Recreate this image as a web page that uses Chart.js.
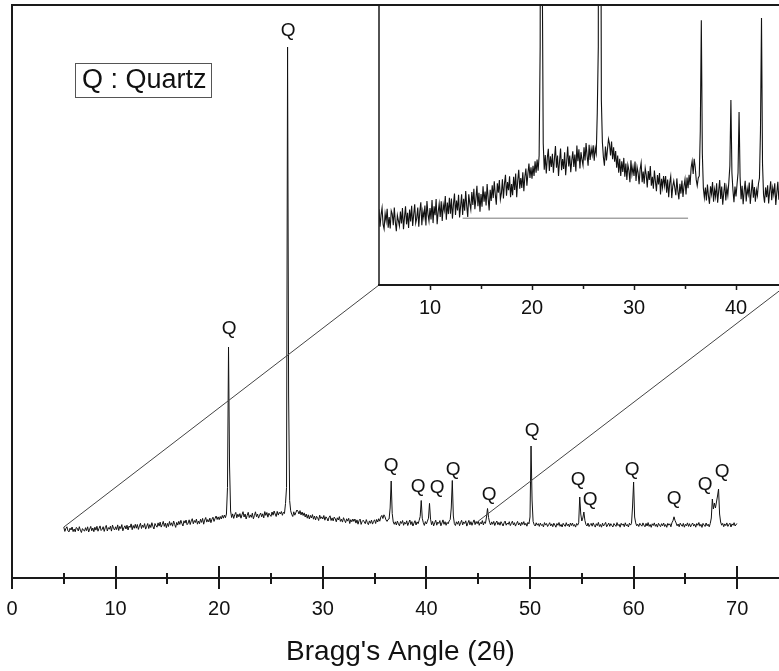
<!DOCTYPE html>
<html>
<head>
<meta charset="utf-8">
<title>XRD - Quartz</title>
<script src="https://cdn.jsdelivr.net/npm/chart.js@4.4.1/dist/chart.umd.min.js"></script>
<style>
  html, body { margin: 0; padding: 0; background: #fff; overflow: hidden; }
  #wrap { position: relative; width: 779px; height: 671px; overflow: hidden; }
  #mainChart { position: absolute; left: 0; top: 0; }
  #insetChart { position: absolute; left: 377px; top: 0; }
</style>
</head>
<body>
<div id="wrap">
  <canvas id="mainChart" width="800" height="671"></canvas>
  <canvas id="insetChart" width="430" height="330"></canvas>
</div>
<script>
// scan: 5.0° to 70.0° (2θ), step 0.1°
const scanStart = 5.0;
const scanStep = 0.1;
const counts = [
  509, 466, 495, 512, 472, 461, 498, 480, 510, 464,
  490, 462, 505, 497, 470, 513, 478, 455, 494, 481,
  468, 503, 474, 512, 460, 489, 516, 472, 500, 463,
  508, 479, 517, 468, 496, 521, 475, 487, 513, 466,
  503, 526, 470, 504, 488, 518, 469, 529, 497, 480,
  512, 484, 531, 475, 516, 494, 534, 472, 502, 522,
  490, 528, 480, 520, 506, 541, 483, 525, 497, 537,
  498, 535, 486, 521, 547, 495, 530, 506, 544, 489,
  516, 545, 495, 534, 505, 553, 517, 490, 545, 523,
  508, 551, 519, 559, 509, 534, 566, 516, 549, 503,
  546, 515, 565, 527, 552, 518, 570, 536, 506, 556,
  529, 567, 536, 577, 545, 520, 572, 549, 580, 533,
  548, 582, 535, 571, 593, 542, 575, 555, 589, 538,
  570, 543, 588, 556, 596, 538, 579, 605, 559, 585,
  561, 599, 553, 588, 608, 566, 596, 620, 585, 611,
  583, 615, 590, 626, 598, 630, 603, 640, 905, 2310,
  1120, 670, 605, 641, 596, 634, 656, 602, 638, 612,
  644, 598, 632, 663, 610, 640, 590, 626, 657, 604,
  631, 607, 648, 592, 625, 662, 613, 640, 599, 628,
  650, 612, 642, 601, 664, 626, 655, 608, 648, 630,
  616, 660, 628, 670, 640, 615, 666, 629, 657, 641,
  665, 627, 658, 645, 744, 905, 5310, 1830, 775, 672,
  636, 615, 662, 628, 655, 680, 668, 640, 674, 631,
  660, 625, 651, 610, 640, 598, 632, 590, 626, 600,
  634, 588, 620, 580, 617, 604, 575, 628, 594, 612,
  590, 625, 578, 612, 598, 570, 606, 622, 575, 601,
  571, 609, 593, 562, 602, 580, 614, 566, 588, 559,
  603, 577, 553, 592, 569, 597, 545, 583, 562, 590,
  566, 590, 549, 581, 538, 573, 589, 536, 565, 578,
  561, 543, 584, 553, 533, 571, 547, 579, 539, 565,
  582, 545, 586, 560, 593, 568, 610, 626, 595, 632,
  612, 581, 566, 585, 590, 700, 970, 645, 560, 537,
  562, 530, 569, 541, 522, 565, 546, 575, 527, 557,
  539, 572, 525, 553, 580, 534, 564, 520, 549, 573,
  530, 561, 543, 576, 615, 775, 598, 555, 526, 564,
  540, 569, 598, 746, 588, 533, 566, 521, 553, 578,
  528, 559, 545, 574, 522, 551, 581, 537, 563, 527,
  556, 542, 571, 585, 700, 975, 620, 544, 525, 562,
  538, 567, 523, 553, 577, 531, 561, 545, 572, 519,
  549, 576, 532, 563, 527, 557, 581, 534, 565, 543,
  568, 527, 556, 541, 574, 530, 562, 546, 610, 695,
  605, 556, 530, 561, 537, 566, 525, 551, 570, 533,
  556, 528, 563, 543, 520, 552, 569, 528, 549, 537,
  563, 524, 546, 568, 531, 553, 519, 545, 566, 530,
  551, 522, 558, 535, 564, 529, 547, 518, 556, 541,
  610, 1320, 780, 566, 534, 520, 552, 528, 544, 516,
  549, 526, 536, 511, 554, 529, 545, 515, 533, 553,
  521, 541, 513, 548, 530, 508, 545, 527, 555, 517,
  536, 510, 547, 529, 516, 553, 523, 539, 512, 549,
  525, 550, 518, 535, 509, 545, 528, 552, 810, 640,
  570, 600, 660, 575, 535, 520, 549, 514, 533, 546,
  518, 551, 527, 509, 543, 524, 556, 515, 535, 508,
  548, 520, 537, 556, 512, 530, 549, 517, 543, 525,
  510, 545, 530, 516, 554, 524, 537, 508, 547, 528,
  541, 513, 552, 522, 535, 510, 549, 529, 545, 720,
  960, 610, 551, 522, 538, 515, 547, 531, 518, 551,
  528, 512, 546, 520, 554, 516, 535, 507, 542, 525,
  551, 517, 537, 509, 547, 529, 513, 543, 522, 550,
  515, 535, 507, 546, 528, 542, 512, 552, 572, 612,
  575, 551, 522, 540, 512, 548, 530, 517, 546, 508,
  537, 522, 551, 516, 543, 511, 534, 550, 519, 538,
  508, 545, 527, 555, 518, 537, 506, 546, 529, 515,
  550, 522, 538, 512, 545, 600, 790, 690, 750, 700,
  760, 820, 890, 640, 560, 528, 546, 513, 541, 524,
  551, 516, 535, 548, 510, 541, 527, 553, 520, 537,
  543
];

// "Q" marks for the quartz reflections (2θ, counts)
const qLabelAngles = [20.95, 26.65, 36.59, 39.2, 41.03, 42.58, 46.06, 50.21, 54.65, 55.81, 59.86, 63.92, 66.91, 68.55];
const qLabelCounts = [2490, 5470, 1120, 910, 900, 1080, 830, 1470, 980, 780, 1080, 790, 930, 1060];

// axes
const mainRange = [0, 75];
const mainTicks = [0, 10, 20, 30, 40, 50, 60, 70];
const mainCounts = [0, 5730];
const insetRange = [5, 45];
const insetTicks = [10, 20, 30, 40];
const insetCounts = [324, 1007];

// flat reference line in the zoomed view
const refLineAngles = [13.2, 35.3];
const refLineCount = 487;

const sans = '"Liberation Sans", Arial, sans-serif';
const serif = '"Liberation Serif", "Times New Roman", serif';

const pattern = counts.map((c, i) => ({ x: +(scanStart + i * scanStep).toFixed(2), y: c }));

function countAt(angle) {
    return counts[Math.round((angle - scanStart) / scanStep)];
}

// ---------- zoomed view (5° - 45°) ----------
const insetCanvas = document.getElementById('insetChart');

const insetPlugin = {
    id: 'insetFrame',
    beforeDraw(chart) {
        const { ctx, chartArea: a } = chart;
        ctx.save();
        ctx.fillStyle = '#fff';
        ctx.fillRect(a.left, a.top, chart.width - a.left, a.bottom - a.top);
        ctx.restore();
    },
    afterDraw(chart) {
        const { ctx, chartArea: a, scales: { x } } = chart;
        ctx.save();
        ctx.strokeStyle = '#1a1a1a';
        ctx.lineWidth = 2;
        ctx.beginPath();
        ctx.moveTo(a.left, a.top);
        ctx.lineTo(chart.width, a.top);
        ctx.moveTo(a.left - 1, a.bottom);
        ctx.lineTo(chart.width, a.bottom);
        ctx.stroke();
        ctx.lineWidth = 1.5;
        ctx.beginPath();
        ctx.moveTo(a.left, a.top);
        ctx.lineTo(a.left, a.bottom);
        for (let t = 10; t <= insetRange[1]; t += 5) {
            const px = Math.round(x.getPixelForValue(t)) + 0.5;
            ctx.moveTo(px, a.bottom);
            ctx.lineTo(px, a.bottom + (t % 10 === 0 ? 5 : 4));
        }
        ctx.stroke();
        ctx.restore();
    }
};

const insetChart = new Chart(insetCanvas, {
    type: 'line',
    data: {
        datasets: [
            {
                data: pattern,
                borderColor: '#111',
                borderWidth: 1.1,
                pointRadius: 0,
                tension: 0
            },
            {
                data: refLineAngles.map(a => ({ x: a, y: refLineCount })),
                borderColor: '#777',
                borderWidth: 1,
                pointRadius: 0
            }
        ]
    },
    options: {
        responsive: false,
        devicePixelRatio: 1,
        animation: false,
        events: [],
        layout: { padding: { left: 2, top: 5, right: 20, bottom: 0 } },
        plugins: { legend: { display: false }, tooltip: { enabled: false } },
        scales: {
            x: {
                type: 'linear',
                min: insetRange[0],
                max: insetRange[1],
                afterBuildTicks: scale => { scale.ticks = insetTicks.map(v => ({ value: v })); },
                afterFit: scale => { scale.height = 45; },
                grid: { drawOnChartArea: false, drawTicks: true, tickLength: 8, tickColor: 'rgba(0,0,0,0)' },
                border: { display: false },
                ticks: { color: '#111', padding: 3, maxRotation: 0, font: { family: sans, size: 20 } }
            },
            y: { display: false, min: insetCounts[0], max: insetCounts[1] }
        }
    },
    plugins: [insetPlugin]
});

// ---------- full pattern ----------
const mainPlugin = {
    id: 'mainFrame',
    afterDraw(chart) {
        const { ctx, chartArea: a, scales: { x, y } } = chart;
        ctx.save();

        // lines from the zoomed range down to the pattern
        const ia = insetChart.chartArea;
        const ix0 = insetCanvas.offsetLeft + ia.left;
        const ix1 = insetCanvas.offsetLeft + ia.right;
        const iy = insetCanvas.offsetTop + ia.bottom;
        ctx.strokeStyle = '#444';
        ctx.lineWidth = 1;
        ctx.beginPath();
        ctx.moveTo(x.getPixelForValue(insetRange[0]), y.getPixelForValue(countAt(insetRange[0])));
        ctx.lineTo(ix0, iy);
        ctx.moveTo(x.getPixelForValue(insetRange[1]), y.getPixelForValue(countAt(insetRange[1])));
        ctx.lineTo(ix1, iy);
        ctx.stroke();

        // frame and bottom axis
        ctx.strokeStyle = '#1a1a1a';
        ctx.lineWidth = 2;
        ctx.beginPath();
        ctx.moveTo(a.left, a.top);
        ctx.lineTo(chart.width, a.top);
        ctx.moveTo(a.left, a.top - 1);
        ctx.lineTo(a.left, a.bottom + 1);
        ctx.moveTo(a.left, a.bottom);
        ctx.lineTo(chart.width, a.bottom);
        for (let t = mainRange[0]; t <= mainRange[1]; t += 5) {
            const px = Math.round(x.getPixelForValue(t));
            const major = t % 10 === 0;
            ctx.moveTo(px, a.bottom - (major ? 12 : 5));
            ctx.lineTo(px, a.bottom + (major ? 11 : 6));
        }
        ctx.stroke();

        // Q marks
        ctx.fillStyle = '#111';
        ctx.font = '19px ' + sans;
        ctx.textAlign = 'center';
        ctx.textBaseline = 'middle';
        qLabelAngles.forEach((ang, i) => {
            ctx.fillText('Q', x.getPixelForValue(ang), y.getPixelForValue(qLabelCounts[i]));
        });

        // key box
        ctx.strokeStyle = '#555';
        ctx.lineWidth = 1;
        ctx.strokeRect(a.left + 63.5, a.top + 58.5, 136, 34);
        ctx.font = '27px ' + sans;
        ctx.textAlign = 'left';
        ctx.fillText('Q : Quartz', a.left + 70, a.top + 76);

        // axis title, theta in serif
        const parts = [["Bragg's Angle (2", sans], ['\u03b8', serif], [')', sans]];
        let total = 0;
        parts.forEach(p => { ctx.font = '28px ' + p[1]; total += ctx.measureText(p[0]).width; });
        let tx = (a.left + a.right) / 2 - total / 2;
        ctx.textBaseline = 'alphabetic';
        parts.forEach(p => {
            ctx.font = '28px ' + p[1];
            ctx.fillText(p[0], tx, 660);
            tx += ctx.measureText(p[0]).width;
        });

        ctx.restore();
    }
};

new Chart(document.getElementById('mainChart'), {
    type: 'line',
    data: {
        datasets: [{
            data: pattern,
            borderColor: '#111',
            borderWidth: 1,
            pointRadius: 0,
            tension: 0
        }]
    },
    options: {
        responsive: false,
        devicePixelRatio: 1,
        animation: false,
        events: [],
        layout: { padding: { left: 12, top: 5, right: 11, bottom: 0 } },
        plugins: { legend: { display: false }, tooltip: { enabled: false } },
        scales: {
            x: {
                type: 'linear',
                min: mainRange[0],
                max: mainRange[1],
                afterBuildTicks: scale => { scale.ticks = mainTicks.map(v => ({ value: v })); },
                afterFit: scale => { scale.height = 93; },
                grid: { drawOnChartArea: false, drawTicks: true, tickLength: 16, tickColor: 'rgba(0,0,0,0)' },
                border: { display: false },
                ticks: { color: '#111', padding: 3, maxRotation: 0, font: { family: sans, size: 20 } }
            },
            y: { display: false, min: mainCounts[0], max: mainCounts[1] }
        }
    },
    plugins: [mainPlugin]
});
</script>
</body>
</html>
